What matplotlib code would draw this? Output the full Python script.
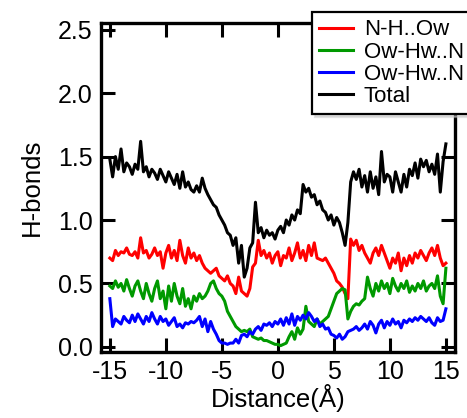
import numpy as np
import matplotlib
matplotlib.use("Agg")
import matplotlib.pyplot as plt

plt.rcParams['font.family'] = ['Liberation Sans', 'DejaVu Sans']
plt.rcParams['axes.unicode_minus'] = False

# distance grid, 0.25 A steps from -15 to 15
dist = np.arange(-15, 15.01, 0.25)

nh_ow = [0.70, 0.68, 0.76, 0.72, 0.75, 0.74, 0.78, 0.73, 0.72, 0.75, 0.70, 0.86,
         0.74, 0.76, 0.70, 0.73, 0.78, 0.72, 0.75, 0.62, 0.74, 0.80, 0.70, 0.76,
         0.68, 0.84, 0.72, 0.66, 0.78, 0.70, 0.74, 0.68, 0.72, 0.66, 0.62, 0.60,
         0.58, 0.60, 0.62, 0.56, 0.54, 0.52, 0.56, 0.50, 0.48, 0.42, 0.55, 0.44,
         0.42, 0.40, 0.46, 0.63, 0.66, 0.84, 0.72, 0.76, 0.70, 0.74, 0.66, 0.72,
         0.75, 0.64, 0.72, 0.70, 0.78, 0.68, 0.74, 0.82, 0.70, 0.76, 0.68, 0.80,
         0.72, 0.82, 0.70, 0.69, 0.68, 0.70, 0.66, 0.62, 0.58, 0.52, 0.50, 0.47,
         0.42, 0.38, 0.85, 0.80, 0.84, 0.76, 0.80, 0.74, 0.70, 0.66, 0.74, 0.78,
         0.72, 0.80, 0.74, 0.68, 0.62, 0.70, 0.66, 0.74, 0.60, 0.70, 0.64, 0.72,
         0.66, 0.74, 0.70, 0.76, 0.72, 0.68, 0.74, 0.78, 0.72, 0.80, 0.70, 0.64,
         0.66]

ow_n1 = [0.48, 0.46, 0.52, 0.47, 0.50, 0.44, 0.53, 0.46, 0.40, 0.48, 0.52, 0.44,
         0.38, 0.50, 0.42, 0.36, 0.46, 0.52, 0.38, 0.44, 0.30, 0.48, 0.36, 0.50,
         0.40, 0.34, 0.46, 0.32, 0.38, 0.30, 0.40, 0.36, 0.42, 0.38, 0.40, 0.44,
         0.50, 0.52, 0.46, 0.42, 0.40, 0.36, 0.28, 0.24, 0.20, 0.16, 0.14, 0.12,
         0.13, 0.12, 0.14, 0.08, 0.07, 0.06, 0.07, 0.05, 0.05, 0.04, 0.03, 0.02,
         0.02, 0.01, 0.02, 0.03, 0.08, 0.12, 0.06, 0.15, 0.10, 0.14, 0.32, 0.20,
         0.18, 0.16, 0.22, 0.18, 0.20, 0.22, 0.24, 0.30, 0.36, 0.42, 0.44, 0.46,
         0.45, 0.22, 0.28, 0.32, 0.34, 0.33, 0.36, 0.38, 0.55, 0.46, 0.40, 0.50,
         0.44, 0.52, 0.46, 0.50, 0.42, 0.54, 0.48, 0.44, 0.50, 0.46, 0.52, 0.43,
         0.48, 0.44, 0.50, 0.46, 0.52, 0.44, 0.48, 0.50, 0.46, 0.56, 0.40, 0.34,
         0.62]

ow_n2 = [0.38, 0.16, 0.22, 0.20, 0.18, 0.24, 0.21, 0.19, 0.25, 0.20, 0.26, 0.22,
         0.18, 0.24, 0.20, 0.27, 0.22, 0.18, 0.24, 0.20, 0.22, 0.17, 0.20, 0.23,
         0.16, 0.18, 0.15, 0.19, 0.18, 0.20, 0.19, 0.21, 0.24, 0.16, 0.22, 0.12,
         0.20, 0.14, 0.10, 0.05, 0.03, 0.03, 0.02, 0.03, 0.03, 0.06, 0.03, 0.09,
         0.10, 0.08, 0.12, 0.10, 0.14, 0.16, 0.13, 0.18, 0.17, 0.19, 0.16, 0.20,
         0.18, 0.22, 0.17, 0.23, 0.18, 0.26, 0.17, 0.24, 0.21, 0.25, 0.22, 0.27,
         0.24, 0.20, 0.22, 0.16, 0.18, 0.14, 0.15, 0.10, 0.09, 0.07, 0.10, 0.06,
         0.08, 0.12, 0.13, 0.14, 0.16, 0.13, 0.15, 0.18, 0.14, 0.20, 0.17, 0.11,
         0.18, 0.21, 0.15, 0.20, 0.17, 0.22, 0.18, 0.20, 0.15, 0.21, 0.19, 0.22,
         0.20, 0.23, 0.21, 0.24, 0.22, 0.20, 0.23, 0.19, 0.17, 0.23, 0.20, 0.21,
         0.30]

total = [1.48, 1.34, 1.50, 1.40, 1.56, 1.38, 1.45, 1.42, 1.36, 1.44, 1.40, 1.62,
         1.38, 1.42, 1.34, 1.40, 1.37, 1.32, 1.40, 1.35, 1.30, 1.38, 1.33, 1.28,
         1.36, 1.25, 1.38, 1.26, 1.30, 1.24, 1.22, 1.27, 1.22, 1.33, 1.25, 1.20,
         1.16, 1.12, 1.10, 1.04, 1.00, 0.96, 0.90, 0.88, 0.80, 0.86, 0.66, 0.80,
         0.55, 0.62, 0.78, 0.82, 1.14, 0.90, 0.94, 0.86, 0.92, 0.88, 0.90, 0.85,
         0.92, 0.95, 0.90, 1.00, 0.96, 1.04, 1.00, 1.08, 1.05, 1.28, 1.22, 1.25,
         1.18, 1.20, 1.12, 1.15, 1.08, 1.06, 1.00, 1.04, 0.96, 1.02, 0.98, 0.90,
         0.80, 0.98, 1.30, 1.38, 1.32, 1.40, 1.26, 1.35, 1.22, 1.38, 1.25, 1.34,
         1.20, 1.54, 1.30, 1.36, 1.34, 1.22, 1.38, 1.30, 1.22, 1.36, 1.26, 1.40,
         1.35, 1.45, 1.33, 1.48, 1.42, 1.47, 1.38, 1.44, 1.36, 1.52, 1.22, 1.46,
         1.60]

labels = ['N-H..Ow', 'Ow-Hw..N', 'Ow-Hw..N', 'Total']
colors = ['#ff0000', '#009900', '#0000ff', '#000000']

fig = plt.figure(figsize=(4.67, 4.18), dpi=100)
ax = fig.add_axes([0.216, 0.158, 0.758, 0.787])

for ys, lab, c in zip([nh_ow, ow_n1, ow_n2, total], labels, colors):
    ax.plot(dist, ys, color=c, lw=2.2, label=lab)

ax.set_xlim(-15.8, 15.8)
ax.set_ylim(-0.04, 2.553)
ax.set_xticks([-15, -10, -5, 0, 5, 10, 15])
ax.set_yticks([0.0, 0.5, 1.0, 1.5, 2.0, 2.5])
ax.yaxis.set_major_formatter(matplotlib.ticker.FormatStrFormatter('%.1f'))
ax.tick_params(direction='in', length=10, width=2.2, labelsize=18, pad=6,
               top=True, right=True)
for sp in ax.spines.values():
    sp.set_linewidth(2.4)

ax.set_xlabel('Distance(Å)', fontsize=18.5, labelpad=0)
ax.set_ylabel('H-bonds', fontsize=18.5, labelpad=10)

leg = ax.legend(loc='upper left', bbox_to_anchor=(0.668, 0.971),
                bbox_transform=fig.transFigure, fontsize=16, frameon=True,
                fancybox=False, shadow={'color': '0.78'}, handlelength=1.5,
                labelspacing=0.05, borderpad=0.33, handletextpad=0.5, borderaxespad=0)
leg.get_frame().set_edgecolor('black')
leg.get_frame().set_linewidth(1.6)
leg.get_frame().set_alpha(1)

fig.savefig('out.png', dpi=100)
